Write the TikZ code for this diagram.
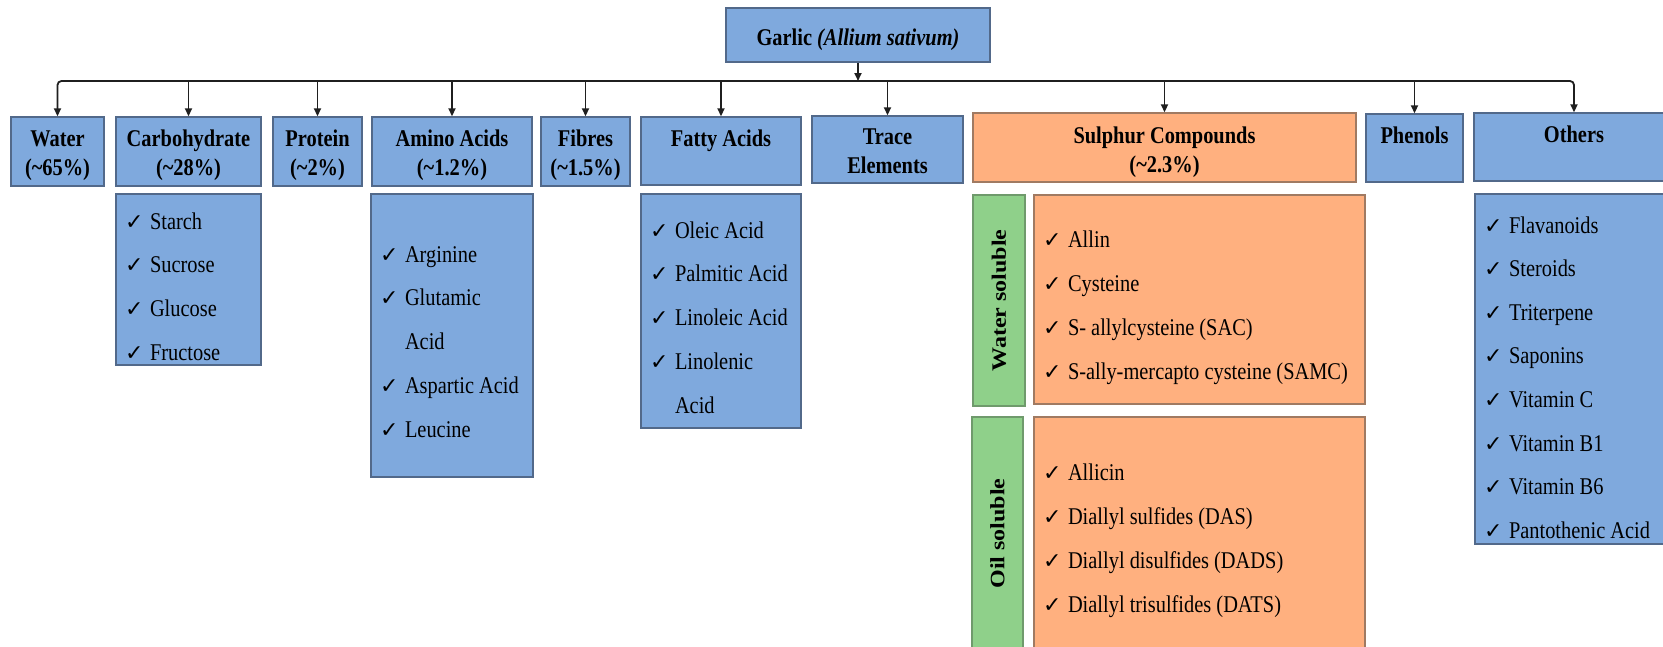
\documentclass[tikz,border=0pt]{standalone}
\usepackage{fontspec}
\usepackage{graphicx}
\setmainfont{Liberation Serif}[FakeStretch=0.85]
\newfontfamily\plainserif{Liberation Serif}
\newfontfamily\checkfont{DejaVu Sans}
\usetikzlibrary{arrows.meta}

\definecolor{bfill}{HTML}{7FA9DD}
\definecolor{bdraw}{HTML}{52698A}
\definecolor{ofill}{HTML}{FFB07F}
\definecolor{odraw}{HTML}{A07A62}
\definecolor{gfill}{HTML}{8FD08A}
\definecolor{gdraw}{HTML}{6F9A6C}

% W, H, first-baseline, text
\newcommand{\BT}[4]{\parbox[c][#2pt][t]{#1pt}{\centering\rule{0pt}{#3pt}#4\par}}
% W, H, first-baseline, skip, items
\newcommand{\LT}[5]{\parbox[c][#2pt][t]{#1pt}{\raggedright\baselineskip=#4pt\rule{0pt}{#3pt}#5\par}}
\newcommand{\ck}{\hspace*{9pt}\makebox[25pt][l]{\checkfont\fontsize{22}{22}\selectfont ✓}}
\newcommand{\ckgap}{\hspace*{34pt}}
\newcommand{\pct}[1]{(\textasciitilde#1\%)}

\tikzset{
  hdr/.style={draw=bdraw, fill=bfill, line width=1.4pt, inner sep=0pt,
    font=\fontsize{24}{29}\selectfont\bfseries},
  ohdr/.style={hdr, draw=odraw, fill=ofill},
  lst/.style={draw=bdraw, fill=bfill, line width=1.4pt, inner sep=0pt,
    font=\fontsize{24}{44}\selectfont},
  olst/.style={lst, draw=odraw, fill=ofill},
  gbox/.style={draw=gdraw, fill=gfill, line width=1.4pt, inner sep=0pt,
    font=\fontsize{24}{29}\selectfont},
  conn/.style={draw=black!88, line width=1.8pt, -{Triangle[length=8pt,width=7pt]}},
}

\begin{document}
\begin{tikzpicture}[x=1pt,y=-1pt]
\fill[white] (0,0) rectangle (1663,646);
\useasboundingbox (0,0) rectangle (1663,646);

% root
\node[hdr] (garlic) at (858,35) {\BT{264}{54}{37}{Garlic \textit{(Allium sativum)}}};

% headers
\node[hdr] (water)   at (57.5,151.5)  {\BT{93}{69}{29}{Water\\\pct{65}}};
\node[hdr] (carb)    at (188.5,151.5) {\BT{145}{69}{29}{Carbohydrate\\\pct{28}}};
\node[hdr] (protein) at (317.5,151.5) {\BT{89}{69}{29}{Protein\\\pct{2}}};
\node[hdr] (amino)   at (452,151.5)   {\BT{160}{69}{29}{Amino Acids\\\pct{1.2}}};
\node[hdr] (fibres)  at (585.5,151.5) {\BT{89}{69}{29}{Fibres\\\pct{1.5}}};
\node[hdr] (fatty)   at (721,151)     {\BT{160}{68}{29}{Fatty Acids}};
\node[hdr] (trace)   at (887.5,149.5) {\BT{151}{67}{28}{Trace\\Elements}};
\node[ohdr] (sulphur) at (1164.5,147.5) {\BT{383}{69}{30}{Sulphur Compounds\\\pct{2.3}}};
\node[hdr] (phenols) at (1414.5,148)  {\BT{97}{68}{29}{Phenols}};
\node[hdr] (others)  at (1574,147)    {\BT{200}{68}{29}{Others}};

% lists
\node[lst] (carbL) at (188.5,279.5) {\LT{145}{171}{35}{43.7}{\ck Starch\\\ck Sucrose\\\ck Glucose\\\ck Fructose}};
\node[lst] (aminoL) at (452,335.5) {\LT{162}{283}{68}{43.75}{\ck Arginine\\\ck Glutamic\\\ckgap Acid\\\ck Aspartic Acid\\\ck Leucine}};
\node[lst] (fattyL) at (721,311) {\LT{160}{234}{44}{43.9}{\ck Oleic Acid\\\ck Palmitic Acid\\\ck Linoleic Acid\\\ck Linolenic\\\ckgap Acid}};

\node[gbox] (wsG) at (999,300.5) {\parbox[c][211pt][c]{52pt}{\centering\rotatebox{90}{\scalebox{1}[0.85]{\plainserif\bfseries Water soluble}}}};
\node[olst] (wsL) at (1199.5,299.5) {\LT{331}{209}{52}{44}{\ck Allin\\\ck Cysteine\\\ck S- allylcysteine (SAC)\\\ck S-ally-mercapto cysteine (SAMC)}};
\node[gbox] (osG) at (997.5,533.5) {\parbox[c][233pt][c]{51pt}{\centering\rotatebox{90}{\scalebox{1}[0.85]{\plainserif\bfseries Oil soluble}}}};
\node[olst] (osL) at (1199.5,533.5) {\LT{331}{233}{63}{44}{\ck Allicin\\\ck Diallyl sulfides (DAS)\\\ck Diallyl disulfides (DADS)\\\ck Diallyl trisulfides (DATS)}};

\node[lst] (othersL) at (1574.5,369) {\LT{199}{350}{39}{43.6}{\ck Flavanoids\\\ck Steroids\\\ck Triterpene\\\ck Saponins\\\ck Vitamin C\\\ck Vitamin B1\\\ck Vitamin B6\\\ck Pantothenic Acid}};

% connectors
\coordinate (bus) at (858,81);
\draw[conn] (garlic.south) -- (bus);
\draw[conn, rounded corners=4pt] (bus) -| (water.north);
\draw[conn, rounded corners=4pt] (bus) -| (others.north);
\foreach \n in {carb,protein,amino,fibres,fatty,trace,sulphur,phenols}
  \draw[conn] (bus -| \n.north) -- (\n.north);
\end{tikzpicture}
\end{document}
